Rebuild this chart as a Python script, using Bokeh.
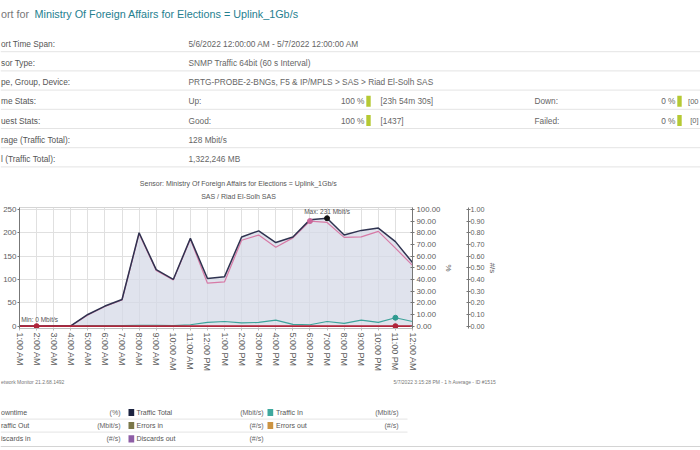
import numpy as np
from bokeh.plotting import figure
from bokeh.layouts import column
from bokeh.models import Range1d, LinearAxis, FixedTicker, PrintfTickFormatter
from bokeh.core.properties import value
from bokeh.embed import file_html
from bokeh.resources import INLINE

FONT = value("Liberation Sans")

# ------------------------------------------------------------------ data
report_title_prefix = "ort for"
report_title = "Ministry Of Foreign Affairs for Elections = Uplink_1Gb/s"
info_labels = ["ort Time Span:", "sor Type:", "pe, Group, Device:", "me Stats:",
               "uest Stats:", "rage (Traffic Total):", "l (Traffic Total):"]
info_values = ["5/6/2022 12:00:00 AM - 5/7/2022 12:00:00 AM",
               "SNMP Traffic 64bit (60 s Interval)",
               "PRTG-PROBE-2-BNGs, F5 & IP/MPLS > SAS > Riad El-Solh SAS",
               "Up:", "Good:", "128 Mbit/s", "1,322,246 MB"]
stat_rows = [3, 4]
stat_good_pct = ["100 %", "100 %"]
stat_good_detail = ["[23h 54m 30s]", "[1437]"]
stat_bad_labels = ["Down:", "Failed:"]
stat_bad_pct = ["0 %", "0 %"]
stat_bad_detail = ["[00", "[0]"]

chart_title = "Sensor: Ministry Of Foreign Affairs for Elections = Uplink_1Gb/s"
chart_subtitle = "SAS / Riad El-Solh SAS"

hours = list(range(1, 25))
hour_labels = ["1:00 AM", "2:00 AM", "3:00 AM", "4:00 AM", "5:00 AM", "6:00 AM",
               "7:00 AM", "8:00 AM", "9:00 AM", "10:00 AM", "11:00 AM", "12:00 PM",
               "1:00 PM", "2:00 PM", "3:00 PM", "4:00 PM", "5:00 PM", "6:00 PM",
               "7:00 PM", "8:00 PM", "9:00 PM", "10:00 PM", "11:00 PM", "12:00 AM"]
traffic_total = [0.3, 0, 0.2, 0.4, 25, 43, 57, 200, 121, 100, 188, 102,
                 106, 191, 204, 179, 191, 228, 231, 195, 205, 210, 181, 136]
traffic_out = [0.2, 0, 0.1, 0.3, 24, 42, 56, 198, 119, 99, 186, 92,
               95, 184, 195, 169, 189, 225, 222, 190, 191, 203, 167, 130]
traffic_in = [0, 0, 0, 0, 1, 1, 1, 2, 2, 1, 3, 8,
              10, 7, 8, 13, 4, 3, 10, 6, 13, 8, 18, 10]
downtime_pct = [0] * 24
downtime_marks = [2, 23]

left_ticks = [0, 50, 100, 150, 200, 250]
pct_ticks = [0, 10, 20, 30, 40, 50, 60, 70, 80, 90, 100]
rate_ticks = [0.0, 0.1, 0.2, 0.3, 0.4, 0.5, 0.6, 0.7, 0.8, 0.9, 1.0]

footer_left = "etwork Monitor 21.2.68.1492"
footer_right = "5/7/2022 3:15:28 PM - 1 h Average - ID #1515"

legend_labels = ["owntime", "Traffic Total", "Traffic In",
                 "raffic Out", "Errors in", "Errors out",
                 "iscards in", "Discards out"]
legend_units = ["(%)", "(Mbit/s)", "(Mbit/s)",
                "(Mbit/s)", "(#/s)", "(#/s)",
                "(#/s)", "(#/s)"]
legend_colors = [None, "#1c2340", "#3ea89e",
                 None, "#7b7748", "#cc9443",
                 None, "#8e5ea6"]

# ------------------------------------------------------------------ layout constants
W = 700
GRAY_LINE = "#e4e4e4"
GREEN = "#b5c934"

def bare(height, y0, y1):
    f = figure(width=W, height=height, x_range=Range1d(0, 700), y_range=Range1d(y0, y1),
               output_backend="svg", toolbar_location=None,
               x_axis_type=None, y_axis_type=None, min_border=0,
               outline_line_color=None, frame_align=False)
    f.background_fill_color = "white"
    f.border_fill_color = "white"
    return f

def txt(f, x, y, s, size, color="#5a5a5a", align="left"):
    f.text(x=x, y=y, text=s, text_font=FONT, text_font_size=value(size),
           text_color=color, text_align=align, text_baseline="middle")

# ------------------------------------------------------------------ header
hdr = bare(203, 203, 0)
txt(hdr, [0.5], [13], [report_title_prefix], "10.8px", "#777777")
txt(hdr, [34], [13], [report_title], "10.8px", "#25808f")

row_y = [43.2 + 19.2 * i for i in range(len(info_labels))]
txt(hdr, [0.5] * len(info_labels), row_y, info_labels, "8.3px", "#555555")
txt(hdr, [188] * len(info_values), row_y, info_values, "8.3px", "#666666")
line_y = [y + 8 for y in row_y]
hdr.segment(x0=0, x1=700, y0=line_y, y1=line_y, line_color=GRAY_LINE, line_width=1)

sy = [row_y[r] for r in stat_rows]
txt(hdr, [364] * 2, sy, stat_good_pct, "8.3px", "#666666", "right")
txt(hdr, [380] * 2, sy, stat_good_detail, "8.3px", "#666666")
txt(hdr, [534] * 2, sy, stat_bad_labels, "8.3px", "#666666")
txt(hdr, [675] * 2, sy, stat_bad_pct, "8.3px", "#666666", "right")
txt(hdr, [698] * 2, sy, stat_bad_detail, "7.5px", "#666666", "right")
hdr.quad(left=365.8, right=370.2, top=[y - 5.5 for y in sy], bottom=[y + 5.5 for y in sy],
         fill_color=GREEN, line_color=None)
hdr.quad(left=676.8, right=681.2, top=[y - 5.5 for y in sy], bottom=[y + 5.5 for y in sy],
         fill_color=GREEN, line_color=None)

txt(hdr, [238], [183], [chart_title], "7px", "#555555", "center")
txt(hdr, [238], [196], [chart_subtitle], "7px", "#555555", "center")

# ------------------------------------------------------------------ chart
ch = figure(width=W, height=171, x_range=Range1d(1, 24), y_range=Range1d(-5, 254),
            output_backend="svg", toolbar_location=None, frame_align=False,
            min_border_left=0, min_border_right=288, min_border_top=4, min_border_bottom=45)
ch.background_fill_color = "white"
ch.border_fill_color = "white"
ch.outline_line_color = "#d5d5d5"
ch.extra_y_ranges = {"pct": Range1d(-2, 101.6), "rate": Range1d(-0.02, 1.016)}

ch.xgrid.ticker = FixedTicker(ticks=hours)
ch.ygrid.ticker = FixedTicker(ticks=left_ticks)
ch.xgrid.grid_line_color = "#e0e0e0"
ch.ygrid.grid_line_color = "#e0e0e0"

xa = ch.below[0]
xa.ticker = FixedTicker(ticks=hours)
xa.major_label_overrides = {h: lab for h, lab in zip(hours, hour_labels)}
xa.major_label_orientation = "vertical"
xa.major_label_text_font = "Liberation Sans"
xa.major_label_text_font_size = "9px"
xa.major_label_text_color = "#606060"
xa.axis_line_color = "#bbbbbb"
xa.major_tick_line_color = "#bbbbbb"
xa.major_tick_out = 2
xa.major_tick_in = 0
xa.minor_tick_line_color = None
xa.major_label_standoff = 2

ya = ch.left[0]
ya.ticker = FixedTicker(ticks=left_ticks)
ya.major_label_text_font = "Liberation Sans"
ya.major_label_text_font_size = "8px"
ya.major_label_text_color = "#606060"
ya.axis_line_color = "#777777"
ya.major_tick_line_color = "#777777"
ya.major_tick_out = 2
ya.major_tick_in = 0
ya.minor_tick_line_color = None
ya.major_label_standoff = 1

def style_right(ax, size):
    ax.major_label_text_font = "Liberation Sans"
    ax.major_label_text_font_size = size
    ax.major_label_text_color = "#606060"
    ax.axis_line_color = "#777777"
    ax.major_tick_line_color = "#777777"
    ax.major_tick_out = 2
    ax.major_tick_in = 2
    ax.minor_tick_line_color = None
    ax.major_label_standoff = 2
    ax.axis_label_text_font = "Liberation Sans"
    ax.axis_label_text_font_size = "8px"
    ax.axis_label_text_font_style = "normal"
    ax.axis_label_text_color = "#606060"

pct_axis = LinearAxis(y_range_name="pct", ticker=FixedTicker(ticks=pct_ticks),
                      formatter=PrintfTickFormatter(format="%.2f"), axis_label="%")
style_right(pct_axis, "7.8px")
pct_axis.axis_label_standoff = 1
ch.add_layout(pct_axis, "right")

spacer = LinearAxis(y_range_name="pct", ticker=FixedTicker(ticks=[]), axis_label="\u00a0")
spacer.axis_line_color = None
spacer.major_tick_line_color = None
spacer.minor_tick_line_color = None
spacer.axis_label_text_font_size = "8px"
spacer.axis_label_standoff = 0
ch.add_layout(spacer, "right")

rate_axis = LinearAxis(y_range_name="rate", ticker=FixedTicker(ticks=rate_ticks),
                       formatter=PrintfTickFormatter(format="%.2f"), axis_label="#/s")
style_right(rate_axis, "7.2px")
rate_axis.major_label_standoff = 0
rate_axis.axis_label_standoff = 1
ch.add_layout(rate_axis, "right")

ch.varea(x=hours, y1=0, y2=traffic_total, fill_color="#d6d9e7", fill_alpha=0.75)
ch.line(hours, traffic_in, line_color="#3ea39a", line_width=1.2)
ch.line(hours, traffic_out, line_color="#d77aa6", line_width=1.2)
ch.line(hours, traffic_total, line_color="#2f3350", line_width=1.5)
ch.line(hours, downtime_pct, y_range_name="pct", line_color="#b0243a", line_width=1.6)

imax = int(np.argmax(traffic_total))
imin = int(np.argmin(traffic_total))
omax = int(np.argmax(traffic_out))
inmax = int(np.argmax(traffic_in))
ch.scatter([hours[omax]], [traffic_out[omax]], size=5, color="#c9679a")
ch.scatter([hours[inmax]], [traffic_in[inmax]], size=5, color="#2f9a90")
ch.scatter([hours[imax]], [traffic_total[imax]], size=5, color="#111111")
ch.scatter(downtime_marks, [downtime_pct[h - 1] for h in downtime_marks],
           y_range_name="pct", size=5, color="#b0243a")

ch.text(x=[hours[imax]], y=[traffic_total[imax]],
        text=[f"Max: {round(traffic_total[imax])} Mbit/s"], y_offset=-7,
        text_font=FONT, text_font_size=value("6.5px"), text_color="#555555",
        text_align="center", text_baseline="middle")
ch.text(x=[hours[imin]], y=[traffic_total[imin]],
        text=[f"Min: {round(traffic_total[imin])} Mbit/s"], y_offset=-7, x_offset=3,
        text_font=FONT, text_font_size=value("6.5px"), text_color="#555555",
        text_align="center", text_baseline="middle")

# ------------------------------------------------------------------ footer + legend
lg = bare(76, 450, 374)
txt(lg, [0.5], [381.7], [footer_left], "5px", "#777777")
txt(lg, [393], [381.7], [footer_right], "5px", "#777777")

leg_row_y = [412, 425, 438.3]
col_label_x = [0.5, 136, 275.5]
col_unit_right = [120, 263, 398]
col_swatch_x = [None, 128, 267]
for i, (lab, unit, colr) in enumerate(zip(legend_labels, legend_units, legend_colors)):
    r, c = divmod(i, 3)
    y = leg_row_y[r]
    txt(lg, [col_label_x[c]], [y], [lab], "7px", "#555555")
    txt(lg, [col_unit_right[c]], [y], [unit], "7px", "#666666", "right")
    if colr is not None:
        lg.quad(left=col_swatch_x[c], right=col_swatch_x[c] + 5.7, top=y - 3.6, bottom=y + 3.6,
                fill_color=colr, line_color=None)
sep_y = [y + 6.6 for y in leg_row_y[:2]]
lg.segment(x0=0, x1=407, y0=sep_y, y1=sep_y, line_color=GRAY_LINE, line_width=1)
lg.segment(x0=[0], x1=[700], y0=[446], y1=[446], line_color="#d4d4d4", line_width=1.2)

layout = column(hdr, ch, lg)
open("out.html", "w").write(file_html(layout, INLINE))
